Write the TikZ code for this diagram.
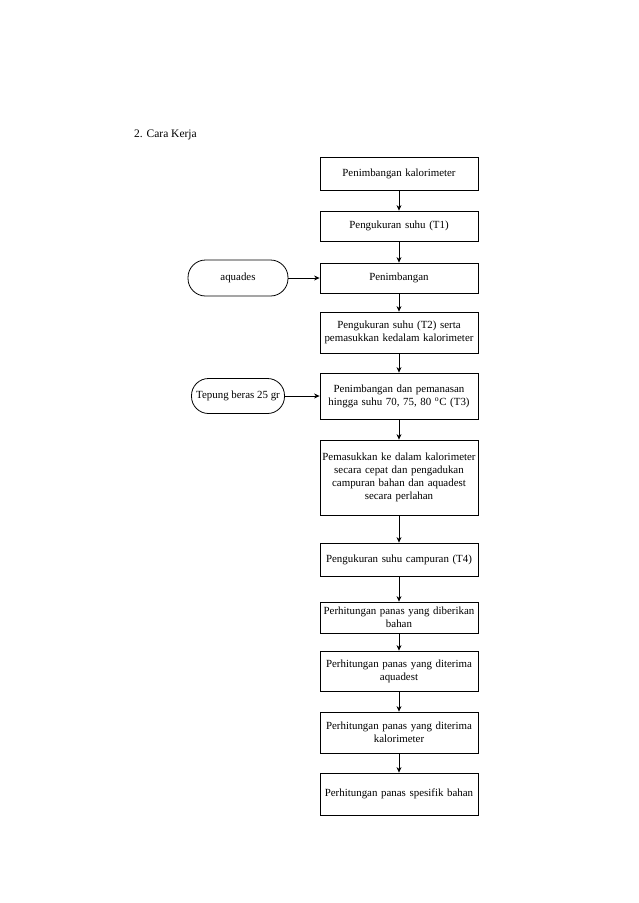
\documentclass[tikz,border=0pt]{standalone}
\usepackage{fontspec}
\setmainfont{Liberation Serif}
\usetikzlibrary{arrows.meta}
\begin{document}
\begin{tikzpicture}[x=1pt,y=-1pt,
  box/.style={draw,line width=0.8pt,minimum width=158pt,inner sep=1pt,align=center,text width=156pt,font=\fontsize{10.9}{13}\selectfont},
  term/.style={draw,line width=0.8pt,inner sep=1pt,align=center,font=\fontsize{10.9}{13}\selectfont},
  arr/.style={line width=0.8pt,-{Stealth[length=5.5pt,width=5pt]}}]
\useasboundingbox (0,0) rectangle (638,903);
\node[anchor=west,inner sep=0pt,font=\fontsize{11.5}{14}\selectfont] (title) at (134,135) {2. Cara Kerja};
\node[box,minimum height=33pt] (b1) at (399,173.5) {Penimbangan kalorimeter};
\node[box,minimum height=30pt] (b2) at (399,226) {Pengukuran suhu (T1)};
\node[box,minimum height=30pt] (b3) at (399,278) {Penimbangan};
\node[box,minimum height=41pt] (b4) at (399,332.5) {Pengukuran suhu (T2) serta\\pemasukkan kedalam kalorimeter};
\node[box,minimum height=46pt] (b5) at (399,396) {Penimbangan dan pemanasan\\hingga suhu 70, 75, 80 $^{\mathrm{o}}$C (T3)};
\node[box,minimum height=75pt] (b6) at (399,477.5) {Pemasukkan ke dalam kalorimeter\\secara cepat dan pengadukan\\campuran bahan dan aquadest\\secara perlahan};
\node[box,minimum height=33pt] (b7) at (399,559.5) {Pengukuran suhu campuran (T4)};
\node[box,minimum height=31pt] (b8) at (399,617.5) {Perhitungan panas yang diberikan\\bahan};
\node[box,minimum height=40pt] (b9) at (399,671) {Perhitungan panas yang diterima\\aquadest};
\node[box,minimum height=41pt] (b10) at (399,732.5) {Perhitungan panas yang diterima\\kalorimeter};
\node[box,minimum height=42pt] (b11) at (399,794) {Perhitungan panas spesifik bahan};
\node[term,minimum width=100pt,minimum height=36pt,rounded corners=17.5pt] (aq) at (238,278) {aquades};
\node[term,minimum width=93pt,minimum height=35pt,rounded corners=17pt] (tp) at (238,396) {Tepung beras 25 gr};
\draw[arr] (b1) -- (b2);
\draw[arr] (b2) -- (b3);
\draw[arr] (b3) -- (b4);
\draw[arr] (b4) -- (b5);
\draw[arr] (b5) -- (b6);
\draw[arr] (b6) -- (b7);
\draw[arr] (b7) -- (b8);
\draw[arr] (b8) -- (b9);
\draw[arr] (b9) -- (b10);
\draw[arr] (b10) -- (b11);
\draw[arr] (aq) -- (b3);
\draw[arr] (tp) -- (b5);
\end{tikzpicture}
\end{document}
